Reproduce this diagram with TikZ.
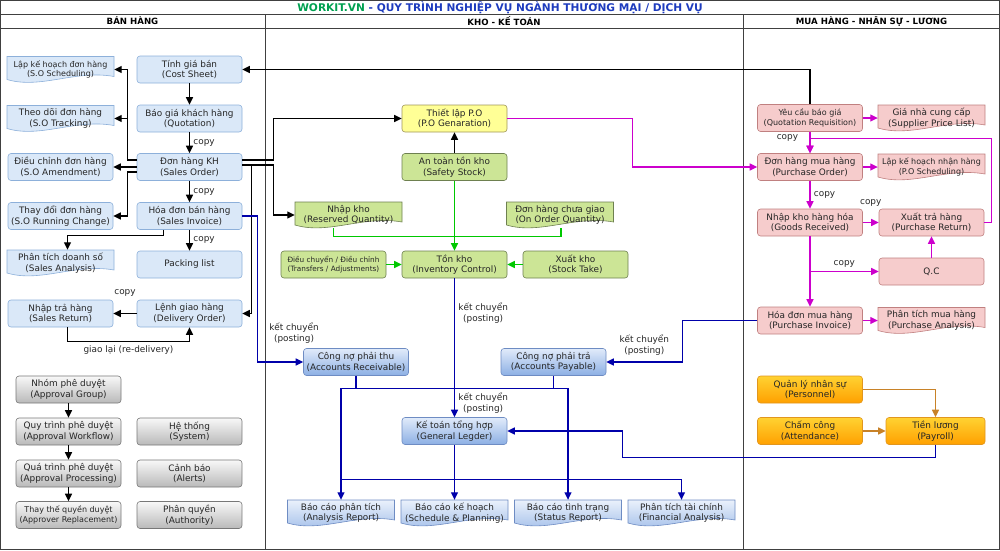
\documentclass[tikz,border=0pt]{standalone}
\usepackage{fontspec}
\setmainfont{DejaVu Sans}
\usetikzlibrary{arrows.meta}

\definecolor{blueFill}{RGB}{218,232,248}
\definecolor{blueEdge}{RGB}{141,176,218}
\definecolor{greenFill}{RGB}{204,229,150}
\definecolor{greenEdge}{RGB}{110,128,80}
\definecolor{yellowFill}{RGB}{255,255,150}
\definecolor{yellowEdge}{RGB}{160,150,90}
\definecolor{pinkFill}{RGB}{246,204,204}
\definecolor{pinkEdge}{RGB}{192,128,128}
\definecolor{orangeTop}{RGB}{255,210,50}
\definecolor{orangeBot}{RGB}{255,160,0}
\definecolor{orangeEdge}{RGB}{225,150,30}
\definecolor{grayTop}{RGB}{248,248,248}
\definecolor{grayBot}{RGB}{185,185,185}
\definecolor{grayEdge}{RGB}{120,120,120}
\definecolor{acctTop}{RGB}{225,235,250}
\definecolor{acctBot}{RGB}{140,175,228}
\definecolor{acctEdge}{RGB}{110,140,195}
\definecolor{lineGreen}{RGB}{0,200,0}
\definecolor{lineBlue}{RGB}{0,0,170}
\definecolor{lineMagenta}{RGB}{204,0,204}
\definecolor{lineOrange}{RGB}{200,130,40}
\definecolor{titleGreen}{RGB}{0,160,80}
\definecolor{titleBlue}{RGB}{30,60,190}

% document shape: #1 shape style, #2 text style, #3 name, #4 centre, #5 text
\newcommand{\docnode}[5]{%
  \begin{scope}[shift={(#4)}]
    \path[#1] (-53.5,-13) -- (53.5,-13) -- (53.5,7)
      .. controls (15,0) and (-20,20) .. (-53.5,10) -- cycle;
  \end{scope}
  \node[docText,#2] (#3) at (#4) {#5};
}

\tikzset{
  every node/.style={font=\fontsize{8.9}{10.6}\selectfont, align=center, text=black!85},
  smallText/.style={font=\fontsize{8.0}{9.8}\selectfont},
  tinyText/.style={font=\fontsize{7.3}{8.8}\selectfont},
  flowBox/.style={rounded corners=3pt, minimum width=105pt, minimum height=27pt, inner sep=1pt, line width=0.6pt},
  salesBox/.style={flowBox, draw=blueEdge, fill=blueFill},
  stockBox/.style={flowBox, draw=greenEdge, fill=greenFill},
  poBox/.style={flowBox, draw=yellowEdge, fill=yellowFill},
  buyBox/.style={flowBox, draw=pinkEdge, fill=pinkFill},
  staffBox/.style={flowBox, draw=orangeEdge, top color=orangeTop, bottom color=orangeBot},
  approvalBox/.style={flowBox, draw=grayEdge, top color=grayTop, bottom color=grayBot},
  ledgerBox/.style={flowBox, draw=acctEdge, top color=acctTop, bottom color=acctBot},
  docText/.style={minimum width=107pt, minimum height=26pt, inner sep=0pt},
  salesDoc/.style={draw=blueEdge, fill=blueFill, line width=0.6pt},
  stockDoc/.style={draw=greenEdge, fill=greenFill, line width=0.6pt},
  buyDoc/.style={draw=pinkEdge, fill=pinkFill, line width=0.6pt},
  reportDoc/.style={draw=acctEdge, top color=acctTop!70!white, bottom color=acctBot!85!white, line width=0.6pt},
  arrowTip/.style={-{Triangle[length=7.5pt,width=7pt]}},
  blackArrow/.style={arrowTip, line width=1.3pt, black},
  greenArrow/.style={arrowTip, line width=1.2pt, lineGreen},
  greenLine/.style={line width=1.2pt, lineGreen},
  blueArrow/.style={arrowTip, line width=1.2pt, lineBlue},
  blueLine/.style={line width=1.2pt, lineBlue},
  magArrow/.style={arrowTip, line width=1.2pt, lineMagenta},
  orangeArrow/.style={arrowTip, line width=1.2pt, lineOrange},
  frameLine/.style={line width=0.8pt, black!75},
  header/.style={font=\fontsize{8.6}{10}\selectfont\bfseries, text=black}
}

\begin{document}
\begin{tikzpicture}[x=1pt,y=-1pt]
  \useasboundingbox (0,0) rectangle (1000,550);

  % frame
  \draw[frameLine] (0.5,0.5) rectangle (999.5,549.5);
  \draw[frameLine] (0,14) -- (1000,14);
  \draw[frameLine] (0,28) -- (1000,28);
  \draw[frameLine] (265,14) -- (265,550);
  \draw[frameLine] (743,14) -- (743,550);

  \node[font=\fontsize{10.6}{12}\selectfont\bfseries] (Title) at (500,7.5)
    {\textcolor{titleGreen}{WORKIT.VN} \textcolor{titleBlue}{- QUY TRÌNH NGHIỆP VỤ NGÀNH THƯƠNG MẠI / DỊCH VỤ}};
  \node[header] (HeadSales) at (132.5,21) {BÁN HÀNG};
  \node[header] (HeadStock) at (504,21) {KHO - KẾ TOÁN};
  \node[header] (HeadBuy) at (871.5,21) {MUA HÀNG - NHÂN SỰ - LƯƠNG};

  % sales
  \node[salesBox] (CostSheet) at (189.5,69.5) {Tính giá bán\\(Cost Sheet)};
  \node[salesBox] (Quotation) at (189.5,118.5) {Báo giá khách hàng\\(Quotation)};
  \node[salesBox] (SalesOrder) at (189.5,167) {Đơn hàng KH\\(Sales Order)};
  \node[salesBox] (SalesInvoice) at (189.5,216) {Hóa đơn bán hàng\\(Sales Invoice)};
  \node[salesBox] (PackingList) at (189.5,264.5) {Packing list};
  \node[salesBox] (DeliveryOrder) at (189.5,313.5) {Lệnh giao hàng\\(Delivery Order)};

  \docnode{salesDoc}{smallText}{SOScheduling}{60.5,69.5}{Lập kế hoạch đơn hàng\\(S.O Scheduling)}
  \docnode{salesDoc}{}{SOTracking}{60.5,118.5}{Theo dõi đơn hàng\\(S.O Tracking)}
  \node[salesBox] (SOAmendment) at (60.5,167) {Điều chỉnh đơn hàng\\(S.O Amendment)};
  \node[salesBox] (SOChange) at (60.5,216) {Thay đổi đơn hàng\\(S.O Running Change)};
  \docnode{salesDoc}{}{SalesAnalysis}{60.5,263}{Phân tích doanh số\\(Sales Analysis)}
  \node[salesBox] (SalesReturn) at (60.5,313.5) {Nhập trả hàng\\(Sales Return)};

  % approval
  \node[approvalBox] (ApprovalGroup) at (68.5,389.5) {Nhóm phê duyệt\\(Approval Group)};
  \node[approvalBox] (ApprovalWorkflow) at (68.5,431.5) {Quy trình phê duyệt\\(Approval Workflow)};
  \node[approvalBox] (ApprovalProcessing) at (68.5,473.5) {Quá trình phê duyệt\\(Approval Processing)};
  \node[approvalBox, smallText] (ApproverReplacement) at (68.5,515) {Thay thế quyền duyệt\\(Approver Replacement)};
  \node[approvalBox] (System) at (189.5,431.5) {Hệ thống\\(System)};
  \node[approvalBox] (Alerts) at (189.5,473.5) {Cảnh báo\\(Alerts)};
  \node[approvalBox] (Authority) at (189.5,515) {Phân quyền\\(Authority)};

  % stock and accounting
  \node[poBox] (POGeneration) at (454.5,118.5) {Thiết lập P.O\\(P.O Genaration)};
  \node[stockBox] (SafetyStock) at (454.5,167) {An toàn tồn kho\\(Safety Stock)};
  \docnode{stockDoc}{}{ReservedQty}{348.5,215}{Nhập kho\\(Reserved Quantity)}
  \docnode{stockDoc}{}{OnOrderQty}{560,215}{Đơn hàng chưa giao\\(On Order Quantity)}
  \node[stockBox] (InventoryControl) at (454.5,264.5) {Tồn kho\\(Inventory Control)};
  \node[stockBox, tinyText] (Transfers) at (333.5,264.5) {Điều chuyển / Điều chỉnh\\(Transfers / Adjustments)};
  \node[stockBox] (StockTake) at (575.5,264.5) {Xuất kho\\(Stock Take)};
  \node[ledgerBox] (AccReceivable) at (356,362) {Công nợ phải thu\\(Accounts Receivable)};
  \node[ledgerBox] (AccPayable) at (553.5,362) {Công nợ phải trả\\(Accounts Payable)};
  \node[ledgerBox] (GeneralLedger) at (454.5,431) {Kế toán tổng hợp\\(General Legder)};
  \docnode{reportDoc}{}{AnalysisReport}{341,513}{Báo cáo phân tích\\(Analysis Report)}
  \docnode{reportDoc}{}{SchedulePlanning}{454.5,513}{Báo cáo kế hoạch\\(Schedule \& Planning)}
  \docnode{reportDoc}{}{StatusReport}{568,513}{Báo cáo tình trạng\\(Status Report)}
  \docnode{reportDoc}{}{FinancialAnalysis}{681.5,513}{Phân tích tài chính\\(Financial Analysis)}

  % purchasing and staff
  \node[buyBox, smallText] (QuotationReq) at (810,118) {Yêu cầu báo giá\\(Quotation Requisition)};
  \docnode{buyDoc}{}{SupplierPrice}{931.5,118}{Giá nhà cung cấp\\(Supplier Price List)}
  \node[buyBox] (PurchaseOrder) at (810,167) {Đơn hàng mua hàng\\(Purchase Order)};
  \docnode{buyDoc}{smallText}{POScheduling}{931.5,167}{Lập kế hoạch nhận hàng\\(P.O Scheduling)}
  \node[buyBox] (GoodsReceived) at (810,222.5) {Nhập kho hàng hóa\\(Goods Received)};
  \node[buyBox] (PurchaseReturn) at (931.5,222.5) {Xuất trả hàng\\(Purchase Return)};
  \node[buyBox] (QC) at (931.5,271.5) {Q.C};
  \node[buyBox] (PurchaseInvoice) at (810,320.5) {Hóa đơn mua hàng\\(Purchase Invoice)};
  \docnode{buyDoc}{}{PurchaseAnalysis}{931.5,320.5}{Phân tích mua hàng\\(Purchase Analysis)}
  \node[staffBox] (Personnel) at (810,389.5) {Quản lý nhân sự\\(Personnel)};
  \node[staffBox] (Attendance) at (810,431) {Chấm công\\(Attendance)};
  \node[staffBox, minimum width=99pt] (Payroll) at (935.5,431) {Tiền lương\\(Payroll)};

  \coordinate (LeftBus) at (128,118.5);

  % black connectors
  \draw[blackArrow] (CostSheet) -- (Quotation);
  \draw[blackArrow] (Quotation) -- node[right]{copy} (SalesOrder);
  \draw[blackArrow] (SalesOrder) -- node[right]{copy} (SalesInvoice);
  \draw[blackArrow] (SalesInvoice) -- node[right]{copy} (PackingList);
  \draw[blackArrow] ([yshift=7pt]SalesOrder.west) -- ++(-9,0) |- (SOScheduling.east);
  \draw[blackArrow] (LeftBus) -- (SOTracking.east);
  \draw[blackArrow] (SalesOrder.west) -- (SOAmendment.east);
  \draw[blackArrow] ([yshift=-5pt]SalesOrder.west) -- ++(-9,0) |- (SOChange.east);
  \draw[blackArrow] ([xshift=-26pt]SalesInvoice.south) -- ++(0,6) -| ([xshift=7pt]SalesAnalysis.north);
  \draw[blackArrow] (DeliveryOrder) -- node[above=13pt]{copy} (SalesReturn);
  \draw[blackArrow] ([xshift=7pt]SalesReturn.south) -- ++(0,14) -| node[pos=0.25,below]{giao lại (re-delivery)} (DeliveryOrder.south);
  \draw[blackArrow] ([yshift=7pt]SalesOrder.east) -- ++(31,0) |- (POGeneration.west);
  \draw[blackArrow] ([yshift=2pt]SalesOrder.east) -- ++(31,0) |- (ReservedQty.west);
  \draw[blackArrow] ([yshift=2pt]SalesOrder.east) -- ++(9,0) |- (DeliveryOrder.east);
  \draw[blackArrow] (QuotationReq.north) |- (CostSheet.east);
  \draw[blackArrow] (SafetyStock) -- (POGeneration);
  \draw[blackArrow] (ApprovalGroup) -- (ApprovalWorkflow);
  \draw[blackArrow] (ApprovalWorkflow) -- (ApprovalProcessing);
  \draw[blackArrow] (ApprovalProcessing) -- (ApproverReplacement);

  % green connectors
  \draw[greenArrow] (SafetyStock) -- (InventoryControl);
  \draw[greenLine] ([xshift=-15pt]ReservedQty.south) -- ++(0,8) -| ([xshift=1pt]OnOrderQty.south);
  \draw[greenArrow] (Transfers) -- (InventoryControl);
  \draw[greenArrow] (StockTake) -- (InventoryControl);

  % blue connectors
  \draw[blueArrow] (SalesInvoice.east) -- ++(15,0) |- node[pos=0.9,above=15pt]{kết chuyển\\(posting)} (AccReceivable.west);
  \draw[blueArrow] (InventoryControl) -- node[pos=0.25,right]{kết chuyển\\(posting)}
    node[pos=0.9,right]{kết chuyển\\(posting)} (GeneralLedger);
  \draw[blueArrow] (AccReceivable.south) -- ++(0,13) -| (AnalysisReport.north);
  \draw[blueArrow] (AccPayable.south) -- ++(0,13) -| (StatusReport.north);
  \draw[blueLine] ([yshift=-13pt]AccReceivable.south) -- ([yshift=-13pt]AccPayable.south);
  \draw[blueArrow] ([yshift=20pt]AnalysisReport.north) -| (FinancialAnalysis.north);
  \draw[blueArrow] (GeneralLedger) -- (SchedulePlanning);
  \draw[blueArrow] (Payroll.south) -- ++(0,13) -| ([xshift=115pt]GeneralLedger.east) -- (GeneralLedger.east);
  \draw[blueArrow] (PurchaseInvoice.west) -| ([xshift=76pt]AccPayable.east) -- node[midway,above=3pt]{kết chuyển\\(posting)} (AccPayable.east);

  % magenta connectors
  \draw[magArrow] (POGeneration.east) -- ++(125,0) |- (PurchaseOrder.west);
  \draw[magArrow] (QuotationReq) -- (SupplierPrice);
  \draw[magArrow] (QuotationReq) -- node[pos=0.3,left=8pt]{copy} (PurchaseOrder);
  \draw[magArrow] (PurchaseReturn.east) -- ++(7,0) |- ([yshift=15pt]PurchaseOrder.north) -- (PurchaseOrder.north);
  \draw[magArrow] (PurchaseOrder) -- (POScheduling);
  \draw[magArrow] (PurchaseOrder) -- node[right]{copy} (GoodsReceived);
  \draw[magArrow] (GoodsReceived) -- node[above=12pt]{copy} (PurchaseReturn);
  \draw[magArrow] (GoodsReceived) -- (PurchaseInvoice);
  \draw[magArrow] (GoodsReceived.south |- QC.west) -- node[above]{copy} (QC.west);
  \draw[magArrow] (QC) -- (PurchaseReturn);
  \draw[magArrow] (PurchaseInvoice) -- (PurchaseAnalysis);

  % orange connectors
  \draw[orangeArrow] (Personnel.east) -| (Payroll.north);
  \draw[orangeArrow] (Attendance) -- (Payroll);
\end{tikzpicture}
\end{document}
